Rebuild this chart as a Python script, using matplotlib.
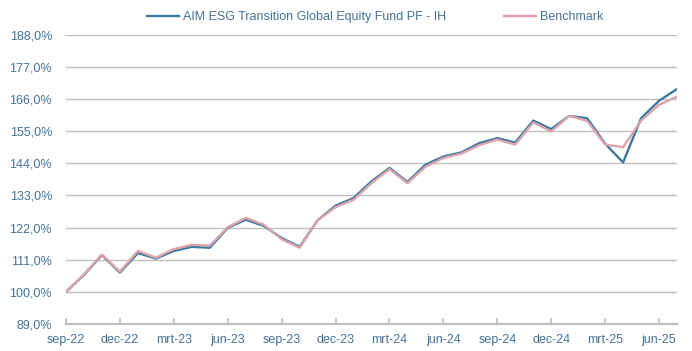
import numpy as np
import matplotlib.pyplot as plt

# maandelijkse waarden (index, start = 100%)
fund = [100.0, 105.8, 112.6, 106.6, 113.3, 111.4, 114.0, 115.4, 115.1, 121.9,
        124.7, 122.6, 118.4, 115.4, 124.5, 129.5, 132.1, 137.8, 142.4, 137.6,
        143.5, 146.3, 147.7, 150.9, 152.6, 151.1, 158.6, 155.7, 160.2, 159.4,
        150.7, 144.3, 159.4, 165.4, 169.4]
benchmark = [100.0, 106.0, 112.8, 106.9, 114.0, 111.7, 114.6, 116.1, 115.8, 122.1,
             125.3, 123.0, 118.0, 115.1, 124.5, 129.0, 131.5, 137.2, 142.0, 137.2,
             142.8, 145.8, 147.3, 150.2, 152.1, 150.4, 158.0, 154.9, 160.2, 158.5,
             150.4, 149.5, 158.6, 164.0, 166.8]
tick_labels = ['sep-22', 'dec-22', 'mrt-23', 'jun-23', 'sep-23', 'dec-23',
               'mrt-24', 'jun-24', 'sep-24', 'dec-24', 'mrt-25', 'jun-25']
y_ticks = [89, 100, 111, 122, 133, 144, 155, 166, 177, 188]

fund_name = 'AIM ESG Transition Global Equity Fund PF - IH'
bench_name = 'Benchmark'

plt.rcParams['font.family'] = ['Liberation Sans', 'DejaVu Sans']

text_col = '#44739A'
grid_col = '#BFBFBF'
fs = 9

fig = plt.figure(figsize=(6.92, 3.51), dpi=100)
ax = fig.add_axes([66 / 692, 27 / 351, 611 / 692, 289.3 / 351])

x = np.arange(len(fund))
ax.plot(x, fund, color='#3A78A2', lw=1.7, label=fund_name, solid_joinstyle='round')
ax.plot(x, benchmark, color='#DCA3AA', lw=1.7, label=bench_name, solid_joinstyle='round')

ax.set_xlim(0, len(fund) - 1)
ax.set_ylim(89, 188)
ax.set_yticks(y_ticks)
ax.set_yticklabels([f'{v:.1f}%'.replace('.', ',') for v in y_ticks])
ax.set_xticks(np.arange(0, len(fund), 3))
ax.set_xticklabels(tick_labels)

ax.grid(axis='y', color=grid_col, lw=1)
ax.set_axisbelow(True)
for s in ['left', 'right', 'top']:
    ax.spines[s].set_visible(False)
ax.spines['bottom'].set_color(grid_col)
ax.spines['bottom'].set_linewidth(1.6)

ax.tick_params(axis='y', length=0, pad=10, labelsize=fs, labelcolor=text_col)
ax.tick_params(axis='x', direction='in', length=4, color=grid_col, width=1.2,
               pad=7, labelsize=fs, labelcolor=text_col)

leg = fig.legend(loc='center', bbox_to_anchor=(375 / 692, 1 - 17 / 351), ncol=2,
                 frameon=False, fontsize=fs, handlelength=2.6,
                 columnspacing=4.6, handletextpad=0.3, borderpad=0)
for t in leg.get_texts():
    t.set_color(text_col)

fig.savefig('out.png', dpi=100)
